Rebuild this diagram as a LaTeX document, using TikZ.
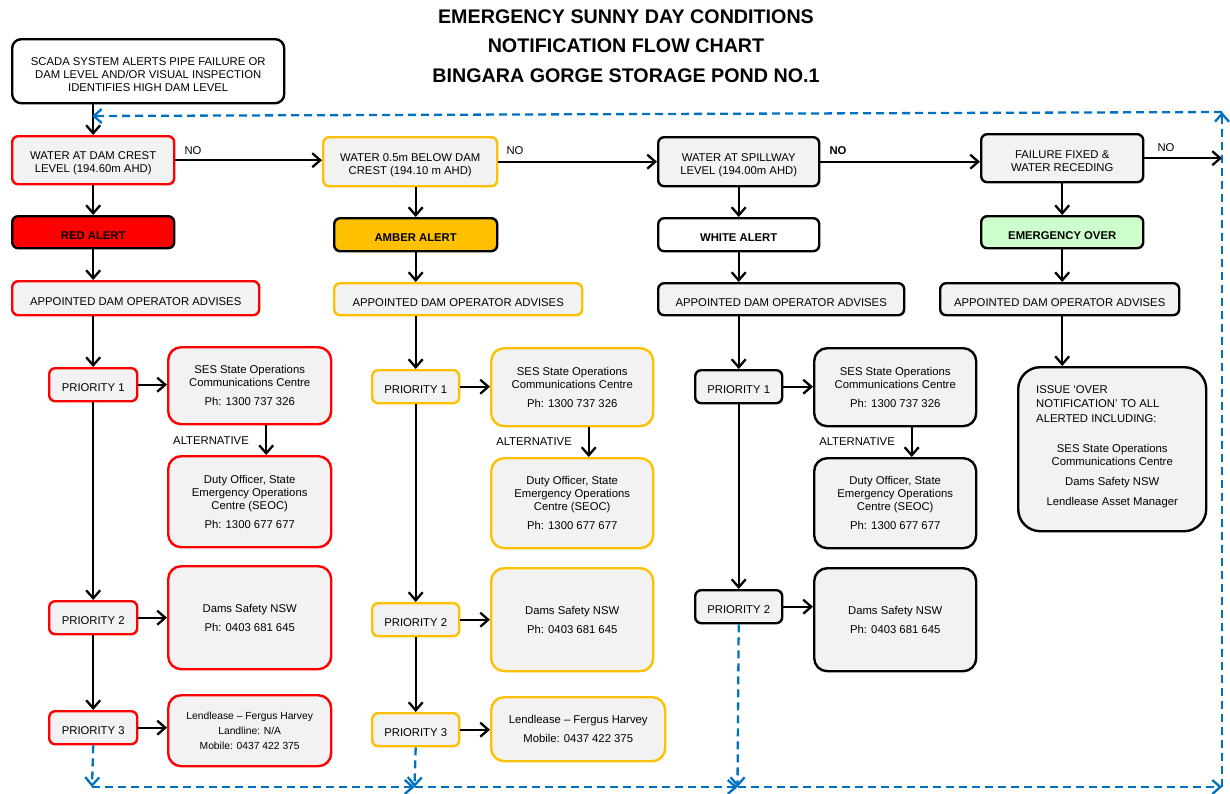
\documentclass[tikz,border=0pt]{standalone}
\usepackage{fontspec}
\setmainfont{Liberation Sans}
\usetikzlibrary{arrows.meta,calc}
\definecolor{boxgray}{HTML}{F2F2F2}
\definecolor{amber}{HTML}{FFC000}
\definecolor{redc}{HTML}{FF0000}
\definecolor{greenc}{HTML}{CCFFCC}
\definecolor{dashblue}{HTML}{0070C0}
\newcommand{\fs}{\fontsize{11.3pt}{13pt}\selectfont}
\newcommand{\fsm}{\fontsize{10.3pt}{15pt}\selectfont}
\newcommand{\lowr}{\rule{0pt}{14pt}}
\begin{document}
\begin{tikzpicture}[x=1pt,y=-1pt,
  bx/.style={draw=#1, line width=2.4pt, rounded corners=6pt, fill=boxgray, inner sep=2pt, font=\fs, anchor=north west},
  cbx/.style={bx=#1, align=center},
  big/.style={cbx=#1, rounded corners=13pt},
  alertbox/.style={cbx=black, fill=#1, font=\fs\bfseries},
  lbl/.style={font=\fs, inner sep=1pt},
  arr/.style={line width=2.3pt, -{Straight Barb[length=8pt,width=14pt]}},
  darr/.style={line width=2.3pt, draw=dashblue, dash pattern=on 8pt off 5pt, -{Straight Barb[length=8pt,width=14pt]}},
  title/.style={font=\fontsize{19.7pt}{29.5pt}\selectfont\bfseries, align=center}
]
\useasboundingbox (0,0) rectangle (1230,793);

\node[title] (title) at (626,46) {EMERGENCY SUNNY DAY CONDITIONS\\NOTIFICATION FLOW CHART\\BINGARA GORGE STORAGE POND NO.1};

\node[cbx=black, fill=white, rounded corners=9pt, minimum width=272pt, minimum height=64pt] (start) at (11,38)
  {\lowr SCADA SYSTEM ALERTS PIPE FAILURE OR\\DAM LEVEL AND/OR VISUAL INSPECTION\\IDENTIFIES HIGH DAM LEVEL};

% ---------------- Column 1 (red)
\node[cbx=redc, minimum width=162pt, minimum height=48pt] (w1) at (11,135) {\lowr WATER AT DAM CREST\\LEVEL (194.60m AHD)};
\node[alertbox=redc, minimum width=162pt, minimum height=32pt] (ra) at (11,215) {\lowr RED ALERT};
\node[cbx=redc, minimum width=247pt, minimum height=34pt] (ap1) at (11,280) {\lowr APPOINTED DAM OPERATOR ADVISES};
\node[cbx=redc, minimum width=88pt, minimum height=33pt] (p1a) at (48,367) {\lowr PRIORITY 1};
\node[big=redc, minimum width=163pt, minimum height=77pt] (sesa) at (167,346) {SES State Operations\\Communications Centre\\[6pt]Ph: 1300 737 326};
\node[big=redc, minimum width=163pt, minimum height=91pt] (duta) at (167,455) {Duty Officer, State\\Emergency Operations\\Centre (SEOC)\\[6pt]Ph: 1300 677 677};
\node[cbx=redc, minimum width=88pt, minimum height=33pt] (p2a) at (48,600) {\lowr PRIORITY 2};
\node[big=redc, minimum width=163pt, minimum height=103pt] (dama) at (167,565) {Dams Safety NSW\\[6pt]Ph: 0403 681 645};
\node[cbx=redc, minimum width=88pt, minimum height=33pt] (p3a) at (48,710) {\lowr PRIORITY 3};
\node[big=redc, minimum width=163pt, minimum height=71pt, font=\fsm] (lena) at (167,694) {Lendlease -- Fergus Harvey\\Landline: N/A\\Mobile: 0437 422 375};
\node[lbl, anchor=east] (alta) at (250,441) {ALTERNATIVE};
\node[lbl] (noa) at (193,151) {NO};

% ---------------- Column 2 (amber)
\node[cbx=amber, minimum width=174pt, minimum height=49pt] (w2) at (322,136) {\lowr WATER 0.5m BELOW DAM\\CREST (194.10 m AHD)};
\node[alertbox=amber, minimum width=163pt, minimum height=33pt] (aa) at (333,217) {\lowr AMBER ALERT};
\node[cbx=amber, minimum width=248pt, minimum height=32pt] (ap2) at (333,282) {\lowr APPOINTED DAM OPERATOR ADVISES};
\node[cbx=amber, minimum width=87pt, minimum height=33pt] (p1b) at (371,369) {\lowr PRIORITY 1};
\node[big=amber, minimum width=162pt, minimum height=78pt] (sesb) at (490,347) {SES State Operations\\Communications Centre\\[6pt]Ph: 1300 737 326};
\node[big=amber, minimum width=162pt, minimum height=90pt] (dutb) at (490,457) {Duty Officer, State\\Emergency Operations\\Centre (SEOC)\\[6pt]Ph: 1300 677 677};
\node[cbx=amber, minimum width=87pt, minimum height=33pt] (p2b) at (371,602) {\lowr PRIORITY 2};
\node[big=amber, minimum width=162pt, minimum height=103pt] (damb) at (490,567) {Dams Safety NSW\\[6pt]Ph: 0403 681 645};
\node[cbx=amber, minimum width=87pt, minimum height=33pt] (p3b) at (371,712) {\lowr PRIORITY 3};
\node[big=amber, minimum width=174pt, minimum height=64pt] (lenb) at (490,696) {Lendlease -- Fergus Harvey\\[6pt]Mobile: 0437 422 375};
\node[lbl, anchor=east] (altb) at (573,442) {ALTERNATIVE};
\node[lbl] (nob) at (515,151) {NO};

% ---------------- Column 3 (white)
\node[cbx=black, minimum width=161pt, minimum height=49pt] (w3) at (657,136) {\lowr WATER AT SPILLWAY\\LEVEL (194.00m AHD)};
\node[alertbox=white, minimum width=161pt, minimum height=33pt] (wa) at (657,217) {\lowr WHITE ALERT};
\node[cbx=black, minimum width=246pt, minimum height=32pt] (ap3) at (657,282) {\lowr APPOINTED DAM OPERATOR ADVISES};
\node[cbx=black, minimum width=87pt, minimum height=33pt] (p1c) at (694,369) {\lowr PRIORITY 1};
\node[big=black, minimum width=162pt, minimum height=78pt] (sesc) at (813,347) {SES State Operations\\Communications Centre\\[6pt]Ph: 1300 737 326};
\node[big=black, minimum width=162pt, minimum height=90pt] (dutc) at (813,457) {Duty Officer, State\\Emergency Operations\\Centre (SEOC)\\[6pt]Ph: 1300 677 677};
\node[cbx=black, minimum width=87pt, minimum height=33pt] (p2c) at (694,589) {\lowr PRIORITY 2};
\node[big=black, minimum width=162pt, minimum height=103pt] (damc) at (813,567) {Dams Safety NSW\\[6pt]Ph: 0403 681 645};
\node[lbl, anchor=east] (altc) at (896,442) {ALTERNATIVE};
\node[lbl, font=\fs\bfseries] (noc) at (838,151) {NO};

% ---------------- Column 4 (over)
\node[cbx=black, minimum width=162pt, minimum height=48pt] (w4) at (980,133) {\lowr FAILURE FIXED \&\\WATER RECEDING};
\node[alertbox=greenc, minimum width=162pt, minimum height=32pt] (eo) at (980,215) {\lowr EMERGENCY OVER};
\node[cbx=black, minimum width=239pt, minimum height=32pt] (ap4) at (939,282) {\lowr APPOINTED DAM OPERATOR ADVISES};
\node[bx=black, rounded corners=22pt, minimum width=188pt, minimum height=164pt, inner xsep=18pt, inner ysep=2pt] (iss) at (1017,366)
  {\parbox{152pt}{\raggedright ISSUE ‘OVER\\[1.5pt]NOTIFICATION’ TO ALL\\[1.5pt]ALERTED INCLUDING:\par\vspace{17pt}\centering SES State Operations\\Communications Centre\\[7pt]Dams Safety NSW\\[7pt]Lendlease Asset Manager\par\vspace*{5pt}}};
\node[lbl] (nod) at (1166,148) {NO};

% ---------------- coordinates for dashed loop
\coordinate (b1) at (92,787);
\coordinate (b2) at (414.5,787);
\coordinate (b3) at (737.5,787);
\coordinate (b4) at (1222,787);
\coordinate (t4) at (1222,112);
\coordinate (t0) at (92,116);

% ---------------- black connectors
\draw[arr] (w1.north |- start.south) -- (w1.north);
\draw[arr] (w1.east) -- (w1.east -| w2.west);
\draw[arr] (w2.east) -- (w2.east -| w3.west);
\draw[arr] (w3.east) -- (w3.east -| w4.west);
\draw[arr] (w4.east) -- (w4.east -| b4);

\foreach \w/\a/\p/\s/\d/\q in {w1/ra/ap1/p1a/sesa/duta, w2/aa/ap2/p1b/sesb/dutb, w3/wa/ap3/p1c/sesc/dutc}{
  \draw[arr] (\a.north |- \w.south) -- (\a.north);
  \draw[arr] (\a.south) -- (\a.south |- \p.north);
  \draw[arr] (\s.north |- \p.south) -- (\s.north);
  \draw[arr] (\s.east) -- (\s.east -| \d.west);
  \draw[arr] ($(\d.south)+(16.5,0)$) -- ($(\q.north)+(16.5,0)$);
}
\draw[arr] (p1a.south) -- (p2a.north);
\draw[arr] (p2a.east) -- (p2a.east -| dama.west);
\draw[arr] (p2a.south) -- (p3a.north);
\draw[arr] (p3a.east) -- (p3a.east -| lena.west);
\draw[arr] (p1b.south) -- (p2b.north);
\draw[arr] (p2b.east) -- (p2b.east -| damb.west);
\draw[arr] (p2b.south) -- (p3b.north);
\draw[arr] (p3b.east) -- (p3b.east -| lenb.west);
\draw[arr] (p1c.south) -- (p2c.north);
\draw[arr] (p2c.east) -- (p2c.east -| damc.west);
\draw[arr] (w4.south) -- (eo.north);
\draw[arr] (eo.south) -- (eo.south |- ap4.north);
\draw[arr] (eo.south |- ap4.south) -- (eo.south |- iss.north);

% ---------------- dashed return loop
\draw[darr] (p3a.south) -- (b1);
\draw[darr] (b1) -- (b2);
\draw[darr] (p3b.south) -- (b2);
\draw[darr] (b2) -- (b3);
\draw[darr] (p2c.south) -- (b3);
\draw[darr] (b3) -- (b4);
\draw[darr] (b4) -- (t4);
\draw[darr] (t4) -- (t0);
\end{tikzpicture}
\end{document}
